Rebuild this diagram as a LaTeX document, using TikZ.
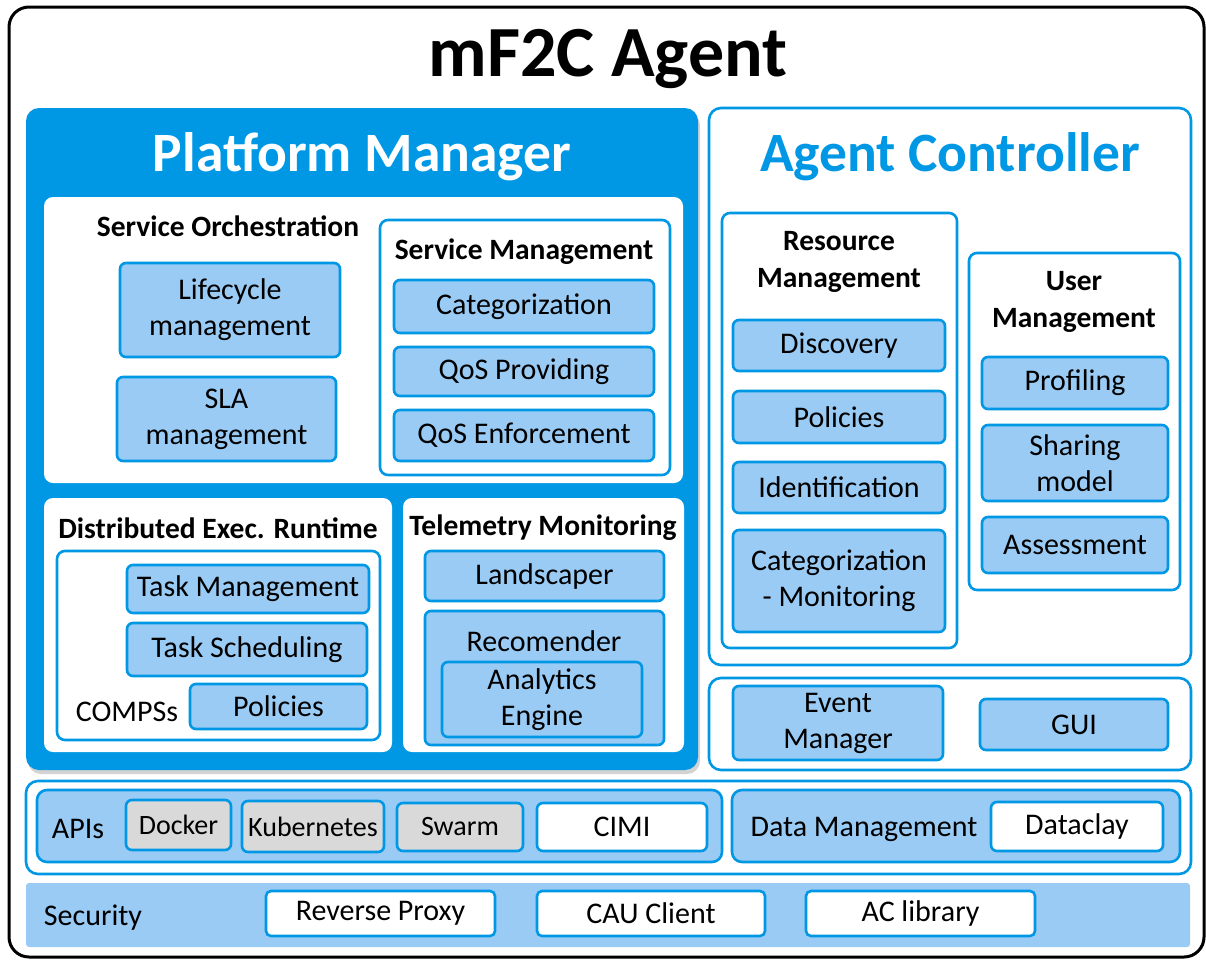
\documentclass[tikz,border=0pt]{standalone}
\usepackage{fontspec}
\setmainfont{Carlito}
\usetikzlibrary{shadows}

\definecolor{pmblue}{RGB}{0,152,229}
\definecolor{lblue}{RGB}{153,203,245}
\definecolor{lgray}{RGB}{217,217,217}

\tikzset{
  base/.style={inner sep=0pt, outer sep=0pt, align=center, text=black,
    font=\fontsize{30}{36}\selectfont},
  lbox/.style={base, draw=pmblue, fill=lblue, line width=2.6pt, rounded corners=6pt},
  wbox/.style={base, draw=pmblue, fill=white, line width=2.6pt, rounded corners=8pt},
  gbox/.style={base, draw=pmblue, fill=lgray, line width=2.6pt, rounded corners=6pt,
    font=\fontsize{28}{34}\selectfont},
  wpanel/.style={base, fill=white, rounded corners=9pt},
  pmpanel/.style={base, fill=pmblue, rounded corners=13pt,
    drop shadow={opacity=0.35, shadow xshift=2pt, shadow yshift=-4pt}},
  secbar/.style={base, fill=lblue, rounded corners=3pt},
  label/.style={base},
  hdr/.style={base, font=\fontsize{29.5}{37}\selectfont\bfseries},
  bigtitle/.style={base, font=\fontsize{55.5}{62}\selectfont\bfseries},
}

% box from corner (x1,y1) to (x2,y2), in pixel units with y pointing down
\newcommand{\bx}[7]{%
  \pgfmathsetmacro{\boxw}{#5-#3}\pgfmathsetmacro{\boxh}{#6-#4}%
  \pgfmathsetmacro{\boxcx}{(#3+#5)/2}\pgfmathsetmacro{\boxcy}{(#4+#6)/2}%
  \node[#1, minimum width=\boxw pt, minimum height=\boxh pt] (#2) at (\boxcx,\boxcy) {#7};}

\begin{document}
\begin{tikzpicture}[x=1pt,y=-1pt]
\useasboundingbox (0,0) rectangle (1206,961);

% outer frame
\bx{base, draw=black, line width=3pt, rounded corners=20pt}{agent}{9}{7}{1204}{957}{}
\node[base, font=\fontsize{72}{80}\selectfont\bfseries] (agenttitle) at (608,59) {mF2C Agent};

% ---------------- Platform Manager ----------------
\bx{pmpanel}{pm}{26}{108}{698}{770}{}
\node[bigtitle, text=white] (pmtitle) at (362,157) {Platform Manager};

\bx{wpanel}{so}{44}{197}{683}{483}{}
\node[hdr] (sotitle) at (228,226) {Service Orchestration};
\bx{lbox}{life}{120}{263}{340}{357}{Lifecycle\\management}
\bx{lbox}{sla}{117}{377}{336}{461}{SLA\\management}
\bx{wbox}{sm}{380}{220}{670}{475}{}
\node[hdr] (smtitle) at (524,252) {Service Management};
\bx{lbox}{cat}{394}{280}{654}{333}{Categorization}
\bx{lbox}{qosp}{394}{347}{654}{396}{QoS Providing}
\bx{lbox}{qose}{394}{410}{654}{461}{QoS Enforcement}

\bx{wpanel}{der}{44}{498}{392}{752}{}
\node[hdr] (dertitle) at (218,528) {Distributed Exec. Runtime};
\bx{wbox}{compss}{57}{551}{380}{740}{}
\bx{lbox}{taskm}{127}{565}{369}{613}{Task Management}
\bx{lbox}{tasks}{127}{623}{367}{676}{Task Scheduling}
\bx{lbox}{cpol}{190}{684}{367}{729}{Policies}
\node[label] (compsslabel) at (127,712) {COMPSs};

\bx{wpanel}{tm}{403}{498}{684}{752}{}
\node[hdr] (tmtitle) at (543,528) {Telemetry Monitoring};
\bx{lbox}{land}{425}{551}{664}{601}{Landscaper}
\bx{lbox}{rec}{425}{611}{664}{745}{}
\node[label] (reclabel) at (544,641) {Recomender};
\bx{lbox}{ana}{442}{662}{642}{737}{Analytics\\Engine}

% ---------------- Agent Controller ----------------
\bx{wbox, rounded corners=12pt}{ac}{709}{108}{1191}{665}{}
\node[bigtitle, text=pmblue] (actitle) at (950,157) {Agent Controller};

\bx{wbox}{rm}{722}{213}{957}{648}{}
\node[hdr] (rmtitle) at (839,262) {Resource\\Management};
\bx{lbox}{disc}{733}{320}{945}{371}{Discovery}
\bx{lbox}{rpol}{733}{391}{945}{443}{Policies}
\bx{lbox}{ident}{733}{462}{945}{513}{Identification}
\bx{lbox}{catmon}{733}{530}{945}{632}{Categorization\\- Monitoring}

\bx{wbox}{um}{969}{253}{1180}{590}{}
\node[hdr] (umtitle) at (1074,302) {User\\Management};
\bx{lbox}{prof}{982}{357}{1168}{409}{Profiling}
\bx{lbox}{share}{982}{425}{1168}{501}{Sharing\\model}
\bx{lbox}{assess}{982}{517}{1168}{573}{Assessment}

\bx{wbox, rounded corners=12pt}{eg}{709}{678}{1191}{770}{}
\bx{lbox}{event}{733}{686}{943}{760}{Event\\Manager}
\bx{lbox}{gui}{980}{699}{1168}{750}{GUI}

% ---------------- APIs and data ----------------
\bx{wbox, rounded corners=12pt}{apirow}{26}{781}{1191}{874}{}
\bx{lbox, rounded corners=10pt}{apis}{37}{790}{722}{862}{}
\node[label] (apislabel) at (78,829) {APIs};
\bx{gbox}{docker}{126}{800}{231}{850}{Docker}
\bx{gbox}{kube}{242}{801}{384}{852}{Kubernetes}
\bx{gbox}{swarm}{397}{803}{523}{851}{Swarm}
\bx{wbox, rounded corners=6pt}{cimi}{537}{803}{707}{851}{CIMI}

\bx{lbox, rounded corners=10pt}{dm}{732}{790}{1180}{862}{}
\node[label] (dmlabel) at (864,829) {Data Management};
\bx{wbox, rounded corners=6pt}{dataclay}{991}{802}{1163}{851}{Dataclay}

% ---------------- Security ----------------
\bx{secbar}{sec}{26}{883}{1190}{947}{}
\node[label] (seclabel) at (93,918) {Security};
\bx{wbox, rounded corners=5pt}{rproxy}{266}{891}{495}{936}{Reverse Proxy}
\bx{wbox, rounded corners=5pt}{cau}{537}{891}{765}{936}{CAU Client}
\bx{wbox, rounded corners=5pt}{aclib}{806}{891}{1035}{936}{AC library}
\end{tikzpicture}
\end{document}
